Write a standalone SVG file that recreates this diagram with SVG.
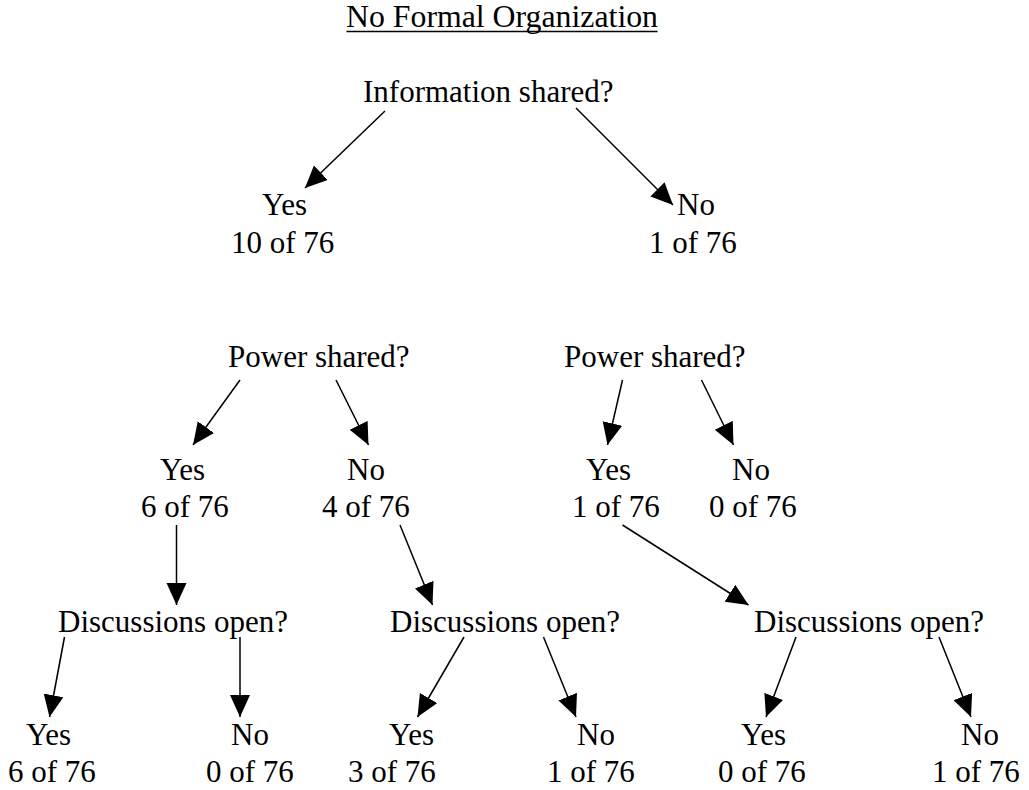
<svg xmlns="http://www.w3.org/2000/svg" width="1029" height="790" viewBox="0 0 1029 790">
<style>
text { font-family: "Liberation Serif", "Times New Roman", serif; font-size: 31px; fill: #000; }
.c line { stroke: #000; stroke-width: 1.5; fill: none; }
</style>
<defs>
<marker id="ah" markerUnits="userSpaceOnUse" markerWidth="23" markerHeight="21" refX="22" refY="10" orient="auto" viewBox="0 0 23 21">
<path d="M0,0 L22,10 L0,20 z" fill="#000"/>
</marker>
</defs>
<rect width="1029" height="790" fill="#fff"/>

<g id="title">
<text x="346" y="27" style="font-size:31.8px">No Formal Organization</text>
<line x1="346.5" y1="31.5" x2="657.5" y2="31.5" stroke="#000" stroke-width="1.6"/>
</g>

<g id="q-info"><text x="363" y="102">Information shared?</text></g>
<g id="info-yes"><text x="262" y="215">Yes</text><text x="231" y="253">10 of 76</text></g>
<g id="info-no"><text x="677" y="215">No</text><text x="649" y="253">1 of 76</text></g>

<g id="q-power-left"><text x="228" y="367">Power shared?</text></g>
<g id="q-power-right"><text x="564" y="367">Power shared?</text></g>

<g id="pl-yes"><text x="160" y="480">Yes</text><text x="141" y="517">6 of 76</text></g>
<g id="pl-no"><text x="347" y="480">No</text><text x="322" y="517">4 of 76</text></g>
<g id="pr-yes"><text x="586" y="480">Yes</text><text x="572" y="517">1 of 76</text></g>
<g id="pr-no"><text x="732" y="480">No</text><text x="709" y="517">0 of 76</text></g>

<g id="q-disc-1"><text x="58" y="632">Discussions open?</text></g>
<g id="q-disc-2"><text x="390" y="632">Discussions open?</text></g>
<g id="q-disc-3"><text x="754" y="632">Discussions open?</text></g>

<g id="d1-yes"><text x="26" y="745">Yes</text><text x="8" y="782">6 of 76</text></g>
<g id="d1-no"><text x="231" y="745">No</text><text x="206" y="782">0 of 76</text></g>
<g id="d2-yes"><text x="389" y="745">Yes</text><text x="348" y="782">3 of 76</text></g>
<g id="d2-no"><text x="577" y="745">No</text><text x="547" y="782">1 of 76</text></g>
<g id="d3-yes"><text x="741" y="745">Yes</text><text x="718" y="782">0 of 76</text></g>
<g id="d3-no"><text x="961" y="745">No</text><text x="932" y="782">1 of 76</text></g>

<g id="connectors" class="c">
<line x1="385" y1="111" x2="305" y2="188" marker-end="url(#ah)"/>
<line x1="576" y1="108" x2="673" y2="205" marker-end="url(#ah)"/>
<line x1="240" y1="380" x2="193" y2="445" marker-end="url(#ah)"/>
<line x1="336" y1="380" x2="368.5" y2="445" marker-end="url(#ah)"/>
<line x1="622.5" y1="380" x2="607.5" y2="445" marker-end="url(#ah)"/>
<line x1="701.5" y1="380" x2="733.5" y2="445" marker-end="url(#ah)"/>
<line x1="176.5" y1="525" x2="176.5" y2="605" marker-end="url(#ah)"/>
<line x1="400" y1="525" x2="432.5" y2="605" marker-end="url(#ah)"/>
<line x1="622.5" y1="525" x2="748.5" y2="605" marker-end="url(#ah)"/>
<line x1="64.5" y1="637" x2="49.5" y2="717" marker-end="url(#ah)"/>
<line x1="240" y1="637" x2="240" y2="717" marker-end="url(#ah)"/>
<line x1="464" y1="637" x2="417.5" y2="717" marker-end="url(#ah)"/>
<line x1="543.5" y1="637" x2="576" y2="717" marker-end="url(#ah)"/>
<line x1="796" y1="637" x2="766" y2="717" marker-end="url(#ah)"/>
<line x1="939" y1="637" x2="971" y2="717" marker-end="url(#ah)"/>
</g>
</svg>
